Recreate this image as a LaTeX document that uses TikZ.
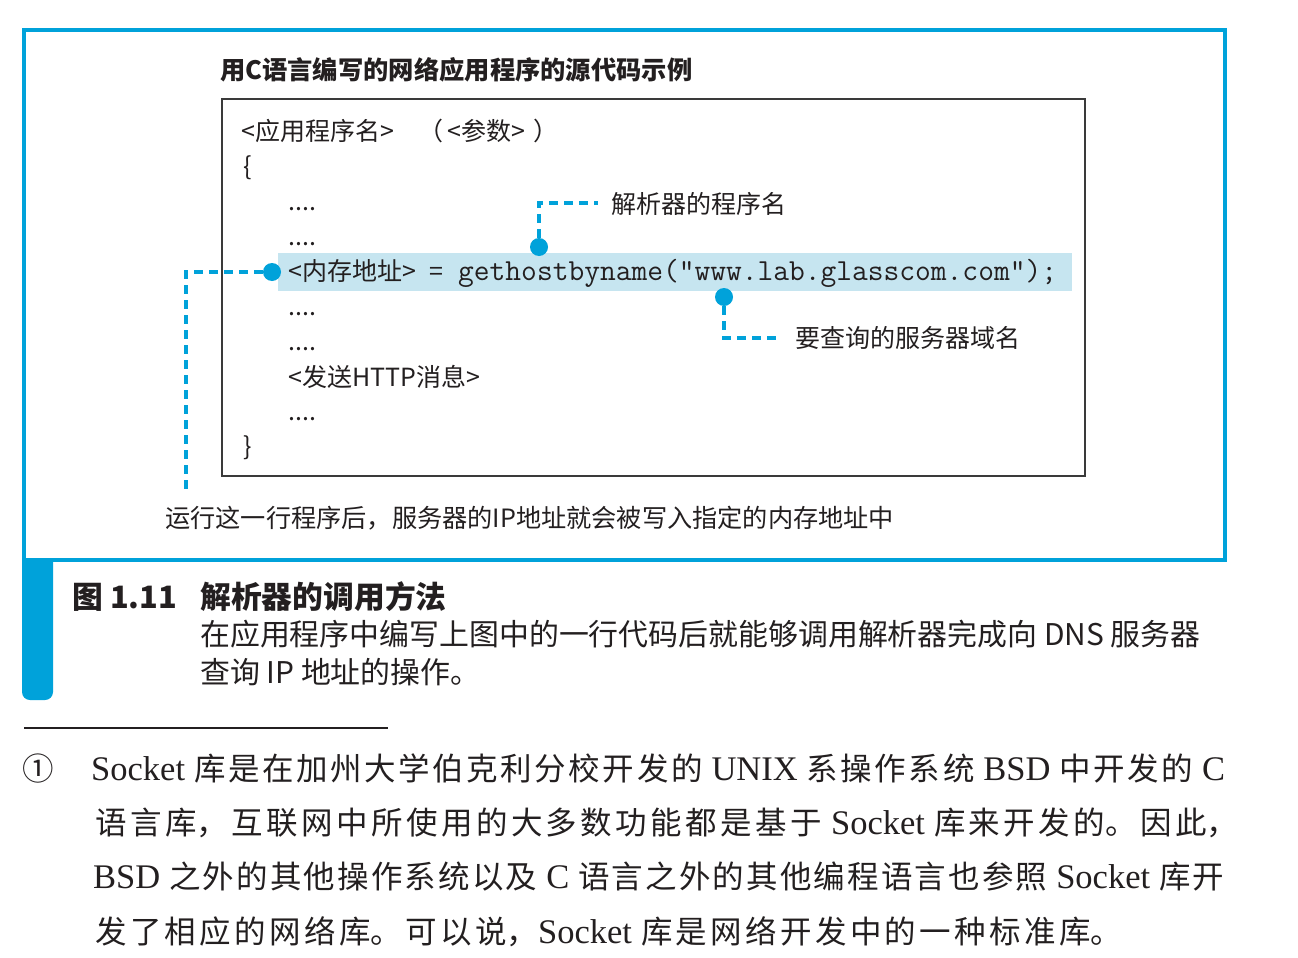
\documentclass[tikz,border=0pt]{standalone}
\usepackage{fontspec}
\setmainfont{Liberation Serif}
\newfontfamily\zh{Noto Sans CJK SC}
% character classes for ideographs and closing punctuation, used to
% spread the footnote lines evenly between the margins
\count255="4E00
\loop \XeTeXcharclass\count255=1 \advance\count255 by 1 \ifnum\count255<"A000 \repeat
\XeTeXcharclass"3002=3
\XeTeXcharclass"FF0C=3
\XeTeXinterchartoks 1 1 = {\hskip 0.5pt plus 30pt\relax}
\XeTeXinterchartoks 3 1 = {\hskip 0.5pt plus 30pt\relax}
\newcommand\spreadcjk{\XeTeXinterchartokenstate=1\relax}
\newcommand\zhn{\zh\fontsize{31.5}{40}\selectfont}
\definecolor{cblue}{HTML}{00A2DA}
\definecolor{hlblue}{HTML}{C6E5F0}
\definecolor{ink}{HTML}{231F20}
\definecolor{boxgray}{HTML}{3A3A3A}
\begin{document}
\begin{tikzpicture}[x=1pt,y=-1pt,
  txt/.style={anchor=base west, inner sep=0pt, text=ink},
  code/.style={txt, font=\zh\fontsize{25}{30}\selectfont},
  mono/.style={txt, font=\ttfamily\fontsize{30.6}{34}\selectfont},
  headline/.style={txt, font=\zh\bfseries\fontsize{25.3}{29}\selectfont},
  captitle/.style={txt, font=\zh\bfseries\fontsize{30.8}{36}\selectfont},
  capbody/.style={txt, font=\zh\fontsize{29.9}{36}\selectfont},
  note/.style={txt, font=\fontsize{34.5}{40}\selectfont},
  frame/.style={draw=cblue, line width=4pt},
  codebox/.style={draw=boxgray, line width=1.6pt},
  leader/.style={draw=cblue, line width=3.5pt, dash pattern=on 9pt off 6pt},
  marker/.style={circle, fill=cblue, inner sep=0pt, minimum size=18pt},
]
\useasboundingbox[fill=white] (0,0) rectangle (1298,958);

% outer frame and the side tab under it
\draw[frame] (24,30) rectangle (1225,560);
\fill[cblue] (22,558) -- (53,558) -- (53,692)
  arc[start angle=0, end angle=90, radius=8] -- (30,700)
  arc[start angle=90, end angle=180, radius=8] -- cycle;

% source listing box
\draw[codebox] (222,99) rectangle (1085,476);
\fill[hlblue] (278,253) rectangle (1072,291);

\node[headline] (title) at (220,79) {用C语言编写的网络应用程序的源代码示例};

\node[code] (l1) at (241,140) {<应用程序名>　（\hspace{4pt}<参数>\hspace{8pt}）};
\node[code] (l2) at (243,175) {\{};
\node[code] (l3) at (288,210) {....};
\node[code] (l4) at (288,245) {....};
\node[code] (l5) at (288,280) {<内存地址>\hspace{14pt}=};
\node[mono] (l5c) at (458,280) {gethostbyname("www.lab.glasscom.com");};
\node[code] (l6) at (288,315) {....};
\node[code] (l7) at (288,350) {....};
\node[code] (l8) at (288,386) {<发送HTTP消息>};
\node[code] (l9) at (288,420) {....};
\node[code] (l10) at (243,455) {\}};

% markers and leader lines
\node[marker] (m1) at (272,272) {};
\node[marker] (m2) at (539,247) {};
\node[marker] (m3) at (724,297) {};
\coordinate (k1) at (186,272);
\coordinate (e1) at (186,490);
\coordinate (k2) at (539,203);
\coordinate (e2) at (598,203);
\coordinate (k3) at (724,338);
\coordinate (e3) at (782,338);
\draw[leader] (m1) -- (k1) -- (e1);
\draw[leader] (m2) -- (k2) -- (e2);
\draw[leader] (m3) -- (k3) -- (e3);

\node[code] (lab1) at (611,213) {解析器的程序名};
\node[code] (lab2) at (795,347) {要查询的服务器域名};
\node[code, font=\zh\fontsize{25.2}{30}\selectfont] (cap) at (165,527)
  {运行这一行程序后，服务器的IP地址就会被写入指定的内存地址中};

% figure caption
\node[captitle] (fig) at (72,608) {图 1.11};
\node[captitle] (figt) at (200,608) {解析器的调用方法};
\node[capbody] (d1) at (200,645) {在应用程序中编写上图中的一行代码后就能够调用解析器完成向 DNS 服务器};
\node[capbody] (d2) at (200,683) {查询 IP 地址的操作。};

% footnote
\draw[ink, line width=1.2pt] (24,728) -- (388,728);
\node[note] (n0) at (22,780) {\zhn ①};
\node[note] (n1) at (91,780) {\spreadcjk
  \hbox to 1134pt{Socket {\zhn 库是在加州大学伯克利分校开发的} UNIX {\zhn 系操作系统} BSD {\zhn 中开发的} C}};
\node[note] (n2) at (95,834) {\spreadcjk
  \hbox to 1143pt{{\zhn 语言库，互联网中所使用的大多数功能都是基于} Socket {\zhn 库来开发的。因此，}}};
\node[note] (n3) at (93,888) {\spreadcjk
  \hbox to 1131pt{BSD {\zhn 之外的其他操作系统以及} C {\zhn 语言之外的其他编程语言也参照} Socket {\zhn 库开}}};
\node[note] (n4) at (95,943) {\spreadcjk
  \hbox to 1027pt{{\zhn 发了相应的网络库。可以说，}Socket {\zhn 库是网络开发中的一种标准库。}}};
\end{tikzpicture}
\end{document}
